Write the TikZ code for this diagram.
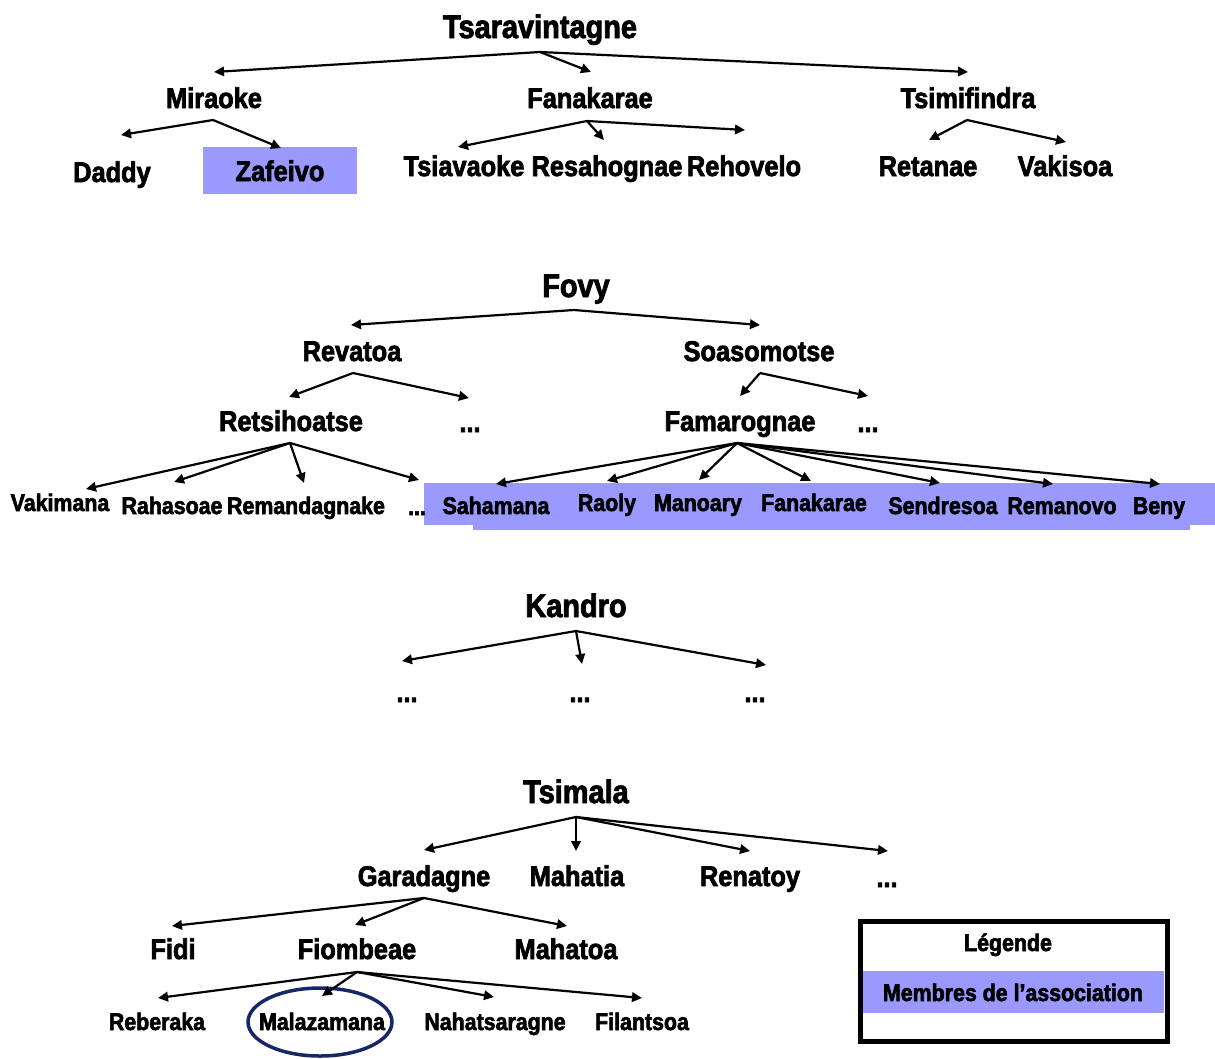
\documentclass[tikz,border=0pt]{standalone}
\usepackage{fontspec}
\setmainfont{Liberation Sans}
\newfontfamily\heavyface[FakeStretch=0.89, FakeBold=2.5]{Liberation Sans Bold}
\usetikzlibrary{arrows.meta}
\definecolor{member}{RGB}{153,153,255}
\definecolor{ring}{RGB}{22,38,102}
\begin{document}
\begin{tikzpicture}[x=1pt,y=-1pt,
  lvlA/.style={font=\heavyface\fontsize{32.5}{36}\selectfont, inner sep=0pt, anchor=base},
  lvlB/.style={font=\heavyface\fontsize{28.5}{32}\selectfont, inner sep=0pt, anchor=base},
  lvlC/.style={font=\heavyface\fontsize{24}{27}\selectfont, inner sep=0pt, anchor=base},
  link/.style={line width=2.2pt, draw=black, -{Triangle[length=10pt,width=9.5pt]}},
]
\useasboundingbox (0,0) rectangle (1215,1058);

% ---------- member highlights ----------
\fill[member] (203,147) rectangle (357,194);
\fill[member] (424,483) rectangle (1215,525);
\fill[member] (473,483) rectangle (1190,530);

% ---------- Tsaravintagne ----------
\node[lvlA] (tsar) at (540,38) {Tsaravintagne};
\node[lvlB] (mira) at (214,108) {Miraoke};
\node[lvlB] (fana) at (590,108) {Fanakarae};
\node[lvlB] (tsim) at (968,108) {Tsimifindra};
\node[lvlB] (dadd) at (112,182) {Daddy};
\node[lvlB] (zafe) at (280,181) {Zafeivo};
\node[lvlB] (tsia) at (464,176) {Tsiavaoke};
\node[lvlB] (resa) at (607,176) {Resahognae};
\node[lvlB] (reho) at (744,176) {Rehovelo};
\node[lvlB] (reta) at (928,176) {Retanae};
\node[lvlB] (vaki) at (1065,176) {Vakisoa};

\coordinate (tsar-f) at (540,52);
\coordinate (mira-t) at (214,72);
\coordinate (fana-t) at (591,72);
\coordinate (tsim-t) at (968,72);
\draw[link] (tsar-f) -- (mira-t);
\draw[link] (tsar-f) -- (fana-t);
\draw[link] (tsar-f) -- (tsim-t);

\coordinate (mira-f) at (213,120);
\coordinate (dadd-t) at (121,135);
\coordinate (zafe-t) at (281,148);
\draw[link] (mira-f) -- (dadd-t);
\draw[link] (mira-f) -- (zafe-t);

\coordinate (fana-f) at (587,121);
\coordinate (tsia-t) at (458,147);
\coordinate (resa-t) at (604,140);
\coordinate (reho-t) at (745,130);
\draw[link] (fana-f) -- (tsia-t);
\draw[link] (fana-f) -- (resa-t);
\draw[link] (fana-f) -- (reho-t);

\coordinate (tsim-f) at (967,120);
\coordinate (reta-t) at (929,140);
\coordinate (vaki-t) at (1066,142);
\draw[link] (tsim-f) -- (reta-t);
\draw[link] (tsim-f) -- (vaki-t);

% ---------- Fovy ----------
\node[lvlA] (fovy) at (576,297) {Fovy};
\node[lvlB] (reva) at (352,361) {Revatoa};
\node[lvlB] (soas) at (759,361) {Soasomotse};
\node[lvlB] (rets) at (291,431) {Retsihoatse};
\node[lvlB] (revd) at (470,432) {...};
\node[lvlB] (fama) at (740,431) {Famarognae};
\node[lvlB] (soad) at (868,432) {...};

\node[lvlC] (vkmn) at (60,511) {Vakimana};
\node[lvlC] (rhso) at (172,514) {Rahasoae};
\node[lvlC] (rmnd) at (306,514) {Remandagnake};
\node[lvlC] (retd) at (417,515) {...};
\node[lvlC] (sahm) at (496,514) {Sahamana};
\node[lvlC] (raol) at (607,511) {Raoly};
\node[lvlC] (mano) at (698,511) {Manoary};
\node[lvlC] (fnkr) at (814,511) {Fanakarae};
\node[lvlC] (sndr) at (943,514) {Sendresoa};
\node[lvlC] (rmnv) at (1062,514) {Remanovo};
\node[lvlC] (beny) at (1159,514) {Beny};

\coordinate (fovy-f) at (574,310);
\coordinate (reva-t) at (351,325);
\coordinate (soas-t) at (760,325);
\draw[link] (fovy-f) -- (reva-t);
\draw[link] (fovy-f) -- (soas-t);

\coordinate (reva-f) at (353,373);
\coordinate (rets-t) at (289,397);
\coordinate (revd-t) at (469,398);
\draw[link] (reva-f) -- (rets-t);
\draw[link] (reva-f) -- (revd-t);

\coordinate (soas-f) at (760,373);
\coordinate (fama-t) at (740,396);
\coordinate (soad-t) at (868,396);
\draw[link] (soas-f) -- (fama-t);
\draw[link] (soas-f) -- (soad-t);

\coordinate (rets-f) at (290,443);
\coordinate (vkmn-t) at (86,489);
\coordinate (rhso-t) at (174,482);
\coordinate (rmnd-t) at (304,483);
\coordinate (retd-t) at (419,480);
\draw[link] (rets-f) -- (vkmn-t);
\draw[link] (rets-f) -- (rhso-t);
\draw[link] (rets-f) -- (rmnd-t);
\draw[link] (rets-f) -- (retd-t);

\coordinate (fama-f) at (737,443);
\coordinate (sahm-t) at (496,484);
\coordinate (raol-t) at (607,481);
\coordinate (mano-t) at (699,480);
\coordinate (fnkr-t) at (811,481);
\coordinate (sndr-t) at (940,483);
\coordinate (rmnv-t) at (1053,484);
\coordinate (beny-t) at (1160,484);
\draw[link] (fama-f) -- (sahm-t);
\draw[link] (fama-f) -- (raol-t);
\draw[link] (fama-f) -- (mano-t);
\draw[link] (fama-f) -- (fnkr-t);
\draw[link] (fama-f) -- (sndr-t);
\draw[link] (fama-f) -- (rmnv-t);
\draw[link] (fama-f) -- (beny-t);

% ---------- Kandro ----------
\node[lvlA] (kand) at (576,617) {Kandro};
\node[lvlB] (kdl) at (407,702) {...};
\node[lvlB] (kdm) at (580,702) {...};
\node[lvlB] (kdr) at (755,702) {...};

\coordinate (kand-f) at (576,631);
\coordinate (kdl-t) at (402,661);
\coordinate (kdm-t) at (582,664);
\coordinate (kdr-t) at (766,665);
\draw[link] (kand-f) -- (kdl-t);
\draw[link] (kand-f) -- (kdm-t);
\draw[link] (kand-f) -- (kdr-t);

% ---------- Tsimala ----------
\node[lvlA] (tsml) at (576,803) {Tsimala};
\node[lvlB] (gara) at (424,886) {Garadagne};
\node[lvlB] (maht) at (577,886) {Mahatia};
\node[lvlB] (rent) at (750,886) {Renatoy};
\node[lvlB] (tsmd) at (887,887) {...};
\node[lvlB] (fidi) at (173,959) {Fidi};
\node[lvlB] (fiom) at (357,959) {Fiombeae};
\node[lvlB] (mhto) at (566,959) {Mahatoa};
\node[lvlC] (rebr) at (157,1030) {Reberaka};
\node[lvlC] (malz) at (322,1030) {Malazamana};
\node[lvlC] (nhts) at (495,1030) {Nahatsaragne};
\node[lvlC] (flnt) at (642,1030) {Filantsoa};

\draw[ring, line width=3.5pt] (320,1022) ellipse [x radius=72, y radius=34];

\coordinate (tsml-f) at (576,817);
\coordinate (gara-t) at (424,850);
\coordinate (maht-t) at (576,851);
\coordinate (rent-t) at (750,851);
\coordinate (tsmd-t) at (888,851);
\draw[link] (tsml-f) -- (gara-t);
\draw[link] (tsml-f) -- (maht-t);
\draw[link] (tsml-f) -- (rent-t);
\draw[link] (tsml-f) -- (tsmd-t);

\coordinate (gara-f) at (424,898);
\coordinate (fidi-t) at (172,926);
\coordinate (fiom-t) at (355,925);
\coordinate (mhto-t) at (567,926);
\draw[link] (gara-f) -- (fidi-t);
\draw[link] (gara-f) -- (fiom-t);
\draw[link] (gara-f) -- (mhto-t);

\coordinate (fiom-f) at (357,972);
\coordinate (rebr-t) at (158,998);
\coordinate (malz-t) at (322,996);
\coordinate (nhts-t) at (494,997);
\coordinate (flnt-t) at (642,998);
\draw[link] (fiom-f) -- (rebr-t);
\draw[link] (fiom-f) -- (malz-t);
\draw[link] (fiom-f) -- (nhts-t);
\draw[link] (fiom-f) -- (flnt-t);

% ---------- legend ----------
\fill[member] (863,971) rectangle (1164,1013);
\draw[line width=5pt] (860,921) rectangle (1167,1041);
\node[lvlC] (lgnd) at (1008,951) {Légende};
\node[lvlC] (lgmb) at (1013,1001) {Membres de l’association};
\end{tikzpicture}
\end{document}
